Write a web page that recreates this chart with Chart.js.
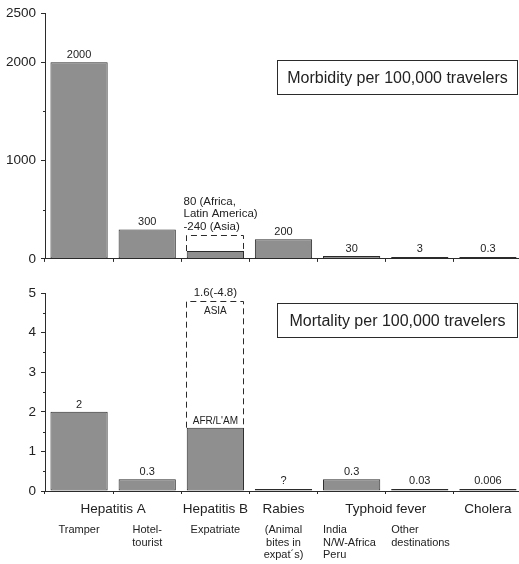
<!DOCTYPE html>
<html>
<head>
<meta charset="utf-8">
<script src="https://cdn.jsdelivr.net/npm/chart.js@4.4.1/dist/chart.umd.min.js"></script>
<style>
  html, body { margin: 0; padding: 0; background: #fff; overflow: hidden; }
  #wrap { position: relative; width: 519px; height: 564px; overflow: hidden; }
  canvas { position: absolute; left: 0; }
  #morbidityChart { top: 0; }
  #mortalityChart { top: 280px; }
</style>
</head>
<body>
<div id="wrap">
  <canvas id="morbidityChart" width="530" height="272"></canvas>
  <canvas id="mortalityChart" width="530" height="284"></canvas>
</div>
<script>
// One bar per traveler group
const categories = ['Tramper', 'Hotel-tourist', 'Expatriate', 'Rabies', 'Typhoid India', 'Typhoid other', 'Cholera'];
const morbidity = [2000, 300, 80, 200, 30, 3, 0.3];
const mortality = [2, 0.3, 1.6, 0, 0.3, 0.03, 0.006];
const morbidityLabels = ['2000', '300', '', '200', '30', '3', '0.3'];
const mortalityLabels = ['2', '0.3', '', '?', '0.3', '0.03', '0.006'];

// Hepatitis B: Africa / Latin America value up to the Asia value
const rangeIndex = 2;
const morbidityRange = [80, 240];
const mortalityRange = [1.6, 4.8];
const morbidityRangeText = ['80 (Africa,', 'Latin America)', '-240 (Asia)'];
const mortalityRangeText = ['1.6(-4.8)', 'ASIA', "AFR/L'AM"];

const morbidityTicks = [0, 500, 1000, 1500, 2000, 2500];
const morbidityTickLabels = ['0', '', '1000', '', '2000', '2500'];
const mortalityTicks = [0, 0.5, 1, 1.5, 2, 2.5, 3, 3.5, 4, 4.5, 5];
const mortalityTickLabels = ['0', '', '1', '', '2', '', '3', '', '4', '', '5'];

const groupNames = ['Hepatitis A', 'Hepatitis B', 'Rabies', 'Typhoid fever', 'Cholera'];
const groupSpans = [[0, 1], [2, 2], [3, 3], [4, 5], [6, 6]];
const subLabels = [['Tramper'], ['Hotel-', 'tourist'], ['Expatriate'], ['(Animal', 'bites in', 'expat´s)'],
                   ['India', 'N/W-Africa', 'Peru'], ['Other', 'destinations'], []];

const FONT = '"Liberation Sans", Arial, Helvetica, sans-serif';
const INK = '#222';
const LINE = '#2b2b2b';
Chart.defaults.font.family = FONT;
Chart.defaults.color = INK;

// typhoid sub labels start at the bar edge, the others are centred
const subAlign = ['center', 'center', 'center', 'center', 'left', 'left', 'center'];

const annotate = {
    id: 'annotate',
    afterDatasetsDraw(chart, args, opts) {
        const ctx = chart.ctx;
        const area = chart.chartArea;
        const y = chart.scales.y;
        const bars = chart.getDatasetMeta(0).data;
        ctx.save();
        ctx.fillStyle = INK;
        ctx.strokeStyle = LINE;
        ctx.lineWidth = 1;

        // minor ticks on the y axis
        opts.ticks.forEach((v, i) => {
            if (opts.tickLabels[i]) return;
            const py = Math.round(y.getPixelForValue(v)) + 0.5;
            ctx.beginPath();
            ctx.moveTo(area.left - 2, py);
            ctx.lineTo(area.left, py);
            ctx.stroke();
        });

        // value labels over the bars
        ctx.textAlign = 'center';
        ctx.textBaseline = 'middle';
        ctx.font = '11px ' + FONT;
        opts.labels.forEach((t, i) => {
            if (!t) return;
            const b = bars[i];
            ctx.fillText(t, b.x, Math.min(b.y - 7, area.bottom - 10));
        });

        // dashed box for the Hepatitis B range
        const rb = bars[rangeIndex];
        const left = Math.round(rb.x - rb.width / 2) - 0.5;
        const right = Math.round(rb.x + rb.width / 2) - 0.5;
        const y0 = y.getPixelForValue(opts.range[0]);
        const y1 = Math.round(y.getPixelForValue(opts.range[1])) + 0.5;
        ctx.setLineDash([6, 4]);
        ctx.beginPath();
        ctx.moveTo(left, y0);
        ctx.lineTo(left, y1);
        ctx.lineTo(right, y1);
        ctx.lineTo(right, y0);
        ctx.stroke();
        ctx.setLineDash([]);

        if (opts.rangeStyle === 'left') {
            ctx.textAlign = 'left';
            ctx.font = '11.5px ' + FONT;
            const n = opts.rangeText.length;
            opts.rangeText.forEach((t, k) => {
                ctx.fillText(t, left - 3, y1 - 9 - (n - 1 - k) * 12.5);
            });
        } else {
            ctx.textAlign = 'center';
            ctx.font = '11.5px ' + FONT;
            ctx.fillText(opts.rangeText[0], rb.x, y1 - 9);
            ctx.font = '10px ' + FONT;
            ctx.fillText(opts.rangeText[1], rb.x, y1 + 10);
            ctx.fillText(opts.rangeText[2], rb.x, y0 - 6);
        }

        // boxed panel title
        const bx = 277.5, bw = 240, by = opts.titleTop + 0.5, bh = 34;
        ctx.fillStyle = '#fff';
        ctx.fillRect(bx, by, bw, bh);
        ctx.strokeRect(bx, by, bw, bh);
        ctx.fillStyle = INK;
        ctx.textAlign = 'center';
        ctx.font = '16px ' + FONT;
        ctx.fillText(opts.title, bx + bw / 2, by + bh / 2 + 1);

        // disease names and traveler groups under the lower panel
        if (opts.groups) {
            ctx.font = '13.5px ' + FONT;
            groupNames.forEach((name, g) => {
                const [a, b] = groupSpans[g];
                const cx = (bars[a].x + bars[b].x) / 2;
                ctx.fillText(name, cx, area.bottom + 18);
            });
            ctx.font = '11px ' + FONT;
            subLabels.forEach((lines, i) => {
                const b = bars[i];
                ctx.textAlign = subAlign[i];
                const tx = subAlign[i] === 'left' ? b.x - b.width / 2 : b.x;
                lines.forEach((t, k) => ctx.fillText(t, tx, area.bottom + 39 + k * 12.5));
            });
        }
        ctx.restore();
    }
};

function makeChart(id, values, max, ticks, tickLabels, xHeight, pluginOpts) {
    const ctx = document.getElementById(id).getContext('2d');
    return new Chart(ctx, {
        type: 'bar',
        data: {
            labels: categories,
            datasets: [{
                data: values,
                backgroundColor: '#8f8f8f',
                borderColor: LINE,
                borderWidth: 1,
                borderSkipped: false,
                barPercentage: 0.84,
                categoryPercentage: 1,
                minBarLength: 2
            }]
        },
        options: {
            responsive: false,
            animation: false,
            layout: { padding: { top: 10, right: 8, bottom: 0, left: 0 } },
            plugins: {
                legend: { display: false },
                tooltip: { enabled: false },
                annotate: pluginOpts
            },
            scales: {
                x: {
                    offset: true,
                    grid: { offset: true, drawOnChartArea: false, tickLength: 3, color: LINE },
                    border: { color: LINE },
                    ticks: { display: false },
                    afterFit: s => { s.height = xHeight; }
                },
                y: {
                    min: 0,
                    max: max,
                    afterBuildTicks: s => { s.ticks = ticks.map(v => ({ value: v })); },
                    afterFit: s => { s.width = 45; },
                    grid: {
                        drawOnChartArea: false,
                        tickLength: 4,
                        tickColor: c => tickLabels[ticks.indexOf(c.tick && c.tick.value)] ? LINE : 'rgba(0,0,0,0)'
                    },
                    border: { color: LINE },
                    ticks: {
                        autoSkip: false,
                        padding: 5,
                        font: { size: 13.5 },
                        color: INK,
                        callback: v => tickLabels[ticks.indexOf(v)]
                    }
                }
            }
        },
        plugins: [annotate]
    });
}

document.addEventListener('DOMContentLoaded', function () {
    makeChart('morbidityChart', morbidity, 2500, morbidityTicks, morbidityTickLabels, 12, {
        labels: morbidityLabels,
        ticks: morbidityTicks,
        tickLabels: morbidityTickLabels,
        range: morbidityRange,
        rangeText: morbidityRangeText,
        rangeStyle: 'left',
        title: 'Morbidity per 100,000 travelers',
        titleTop: 60,
        groups: false
    });
    makeChart('mortalityChart', mortality, 5, mortalityTicks, mortalityTickLabels, 73, {
        labels: mortalityLabels,
        ticks: mortalityTicks,
        tickLabels: mortalityTickLabels,
        range: mortalityRange,
        rangeText: mortalityRangeText,
        rangeStyle: 'center',
        title: 'Mortality per 100,000 travelers',
        titleTop: 23,
        groups: true
    });
});
</script>
</body>
</html>
